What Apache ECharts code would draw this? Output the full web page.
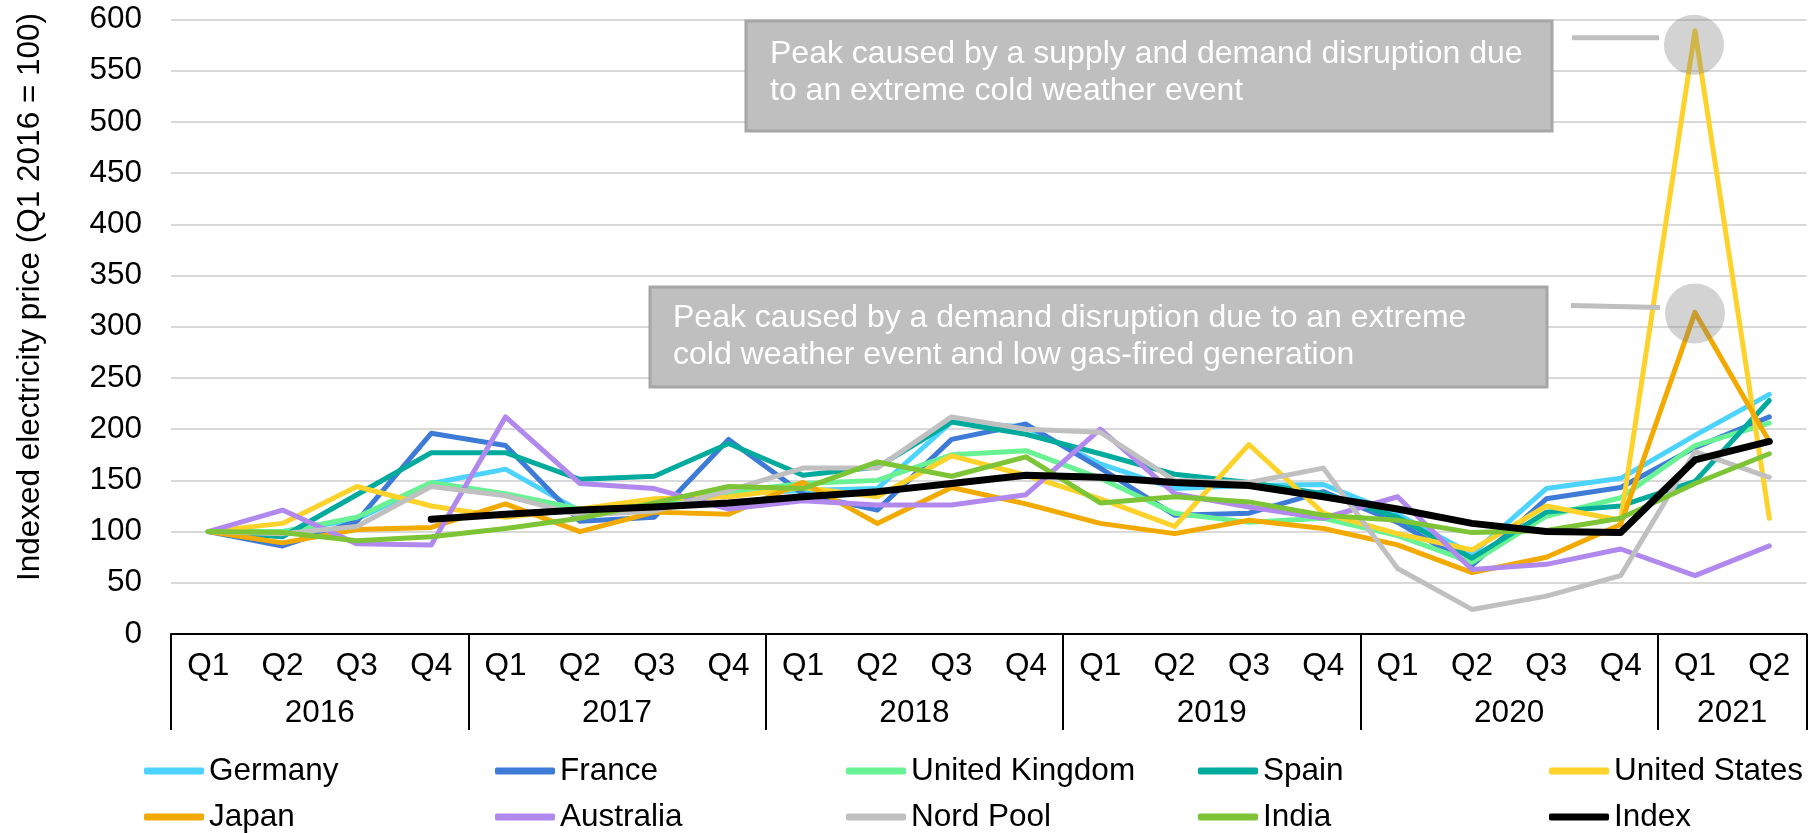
<!DOCTYPE html>
<html>
<head>
<meta charset="utf-8">
<script src="https://cdn.jsdelivr.net/npm/echarts@6/dist/echarts.min.js"></script>
<style>
  html, body { margin: 0; padding: 0; background: #ffffff; }
  #chart { width: 1809px; height: 833px; }
</style>
</head>
<body>
<div id="chart"></div>
<script>
// Quarterly periods, Q1 2016 to Q2 2021
const periods = [
  '2016 Q1', '2016 Q2', '2016 Q3', '2016 Q4',
  '2017 Q1', '2017 Q2', '2017 Q3', '2017 Q4',
  '2018 Q1', '2018 Q2', '2018 Q3', '2018 Q4',
  '2019 Q1', '2019 Q2', '2019 Q3', '2019 Q4',
  '2020 Q1', '2020 Q2', '2020 Q3', '2020 Q4',
  '2021 Q1', '2021 Q2'
];
const years = ['2016', '2017', '2018', '2019', '2020', '2021'];
const quartersPerYear = [4, 4, 4, 4, 4, 2];
const yTicks = [0, 50, 100, 150, 200, 250, 300, 350, 400, 450, 500, 550, 600];

// Indexed electricity price (Q1 2016 = 100)
const germany      = [100, 100, 112, 147, 161, 120, 125, 137, 140, 142, 207, 202, 166, 142, 145, 146, 117, 78, 142, 152, 194, 234];
const france       = [100, 86, 110, 196, 184, 110, 114, 190, 137, 121, 190, 205, 162, 116, 118, 139, 109, 67, 132, 143, 182, 212];
const unitedKingdom= [100, 100, 114, 148, 137, 122, 127, 139, 147, 150, 175, 179, 152, 118, 109, 113, 96, 70, 115, 133, 184, 206];
const spain        = [100, 95, 136, 177, 177, 151, 154, 186, 155, 163, 207, 195, 176, 156, 148, 137, 114, 74, 119, 125, 149, 228];
const unitedStates = [100, 108, 144, 125, 114, 122, 132, 134, 143, 134, 174, 155, 132, 105, 185, 118, 98, 82, 125, 111, 589, 113];
const japan        = [100, 89, 102, 104, 127, 100, 119, 117, 148, 108, 143, 127, 108, 98, 111, 103, 87, 60, 75, 107, 314, 188];
const australia    = [100, 121, 88, 87, 212, 147, 142, 122, 130, 126, 126, 136, 200, 137, 124, 113, 134, 63, 68, 83, 57, 86];
const nordPool     = [100, 98, 105, 144, 135, 116, 120, 140, 162, 162, 212, 200, 197, 150, 148, 162, 64, 24, 37, 57, 178, 153];
const india        = [100, 99, 91, 95, 103, 113, 128, 144, 142, 168, 154, 173, 128, 134, 129, 116, 111, 99, 101, 113, 147, 176];
const indexValues  = [null, null, null, 112, 117, 121, 124, 128, 134, 139, 147, 155, 153, 148, 145, 134, 122, 108, 100, 99, 170, 188];

const seriesDefs = [
  { name: 'Germany',        data: germany,       color: '#4dd3ff', width: 5 },
  { name: 'France',         data: france,        color: '#3e7bd7', width: 5 },
  { name: 'United Kingdom', data: unitedKingdom, color: '#68f294', width: 5 },
  { name: 'Spain',          data: spain,         color: '#00ab9e', width: 5 },
  { name: 'United States',  data: unitedStates,  color: '#fdd22a', width: 5 },
  { name: 'Japan',          data: japan,         color: '#f2aa00', width: 5 },
  { name: 'Australia',      data: australia,     color: '#b088ee', width: 5 },
  { name: 'Nord Pool',      data: nordPool,      color: '#c0c0c0', width: 5 },
  { name: 'India',          data: india,         color: '#7dc436', width: 5 },
  { name: 'Index',          data: indexValues,   color: '#000000', width: 7 }
];

const FONT = '"Liberation Sans", Arial, sans-serif';
const FS = 31.5;
const NOTE_FS = 32;

// year label centres in band units along the category axis
const yearCentres = [];
let acc = 0;
quartersPerYear.forEach(function (n) { yearCentres.push(acc + n / 2); acc += n; });

// legend columns (two rows)
const legendColumns = [
  ['Germany', 'Japan'],
  ['France', 'Australia'],
  ['United Kingdom', 'Nord Pool'],
  ['Spain', 'India'],
  ['United States', 'Index']
];
const legendLefts = [144, 495, 846, 1198, 1549];

const chart = echarts.init(document.getElementById('chart'), null, { renderer: 'canvas' });

const option = {
  animation: false,
  backgroundColor: '#ffffff',
  textStyle: { fontFamily: FONT },
  grid: { left: 171, right: 2.5, top: 19.5, bottom: 199, containLabel: false },
  xAxis: [
    {
      type: 'category',
      data: periods,
      boundaryGap: true,
      axisLine: { show: true, lineStyle: { color: '#000000', width: 2 } },
      axisTick: {
        show: true,
        interval: function (i) { return i % 4 === 0; },
        length: 96,
        lineStyle: { color: '#000000', width: 2 }
      },
      axisLabel: {
        interval: 0,
        margin: 16,
        fontSize: FS,
        fontFamily: FONT,
        color: '#000000',
        formatter: function (v) { return v.split(' ')[1]; }
      },
      splitLine: { show: false }
    },
    {
      type: 'value',
      position: 'bottom',
      min: 0,
      max: periods.length,
      axisLine: { show: false },
      axisTick: { show: false },
      splitLine: { show: false },
      axisLabel: {
        customValues: yearCentres,
        margin: 63,
        fontSize: FS,
        fontFamily: FONT,
        color: '#000000',
        formatter: function (v) {
          const k = yearCentres.indexOf(v);
          return k >= 0 ? years[k] : '';
        }
      }
    }
  ],
  yAxis: {
    type: 'value',
    min: yTicks[0],
    max: yTicks[yTicks.length - 1],
    interval: 50,
    axisLine: { show: false },
    axisTick: { show: false },
    axisLabel: { margin: 29, fontSize: FS, fontFamily: FONT, color: '#000000' },
    splitLine: { show: true, lineStyle: { color: '#d9d9d9', width: 2 } }
  },
  legend: legendColumns.map(function (col, k) {
    return {
      data: col,
      orient: 'vertical',
      left: legendLefts[k],
      top: 755,
      padding: 0,
      itemGap: 14,
      itemWidth: 60,
      itemHeight: 7,
      icon: 'roundRect',
      selectedMode: false,
      textStyle: { fontSize: FS, fontFamily: FONT, color: '#000000', lineHeight: 32 }
    };
  }),
  series: seriesDefs.map(function (s) {
    return {
      name: s.name,
      type: 'line',
      data: s.data,
      xAxisIndex: 0,
      yAxisIndex: 0,
      symbol: 'none',
      showSymbol: false,
      connectNulls: false,
      color: s.color,
      lineStyle: { color: s.color, width: s.width, cap: 'round', join: 'round' },
      itemStyle: { color: s.color },
      emphasis: { disabled: true },
      silent: true
    };
  })
};

chart.setOption(option);

// Callouts: highlight rings on the Q1 2021 peaks with text boxes and leader lines
const peakIdx = periods.indexOf('2021 Q1');
const usPeak = chart.convertToPixel({ xAxisIndex: 0, yAxisIndex: 0 }, [peakIdx, unitedStates[peakIdx]]);
const jpPeak = chart.convertToPixel({ xAxisIndex: 0, yAxisIndex: 0 }, [peakIdx, japan[peakIdx]]);

const ringR = 30;
const usRing = [usPeak[0] - 1, usPeak[1] + 14];
const jpRing = [jpPeak[0], jpPeak[1] + 1];

function box(x, y, w, h, tx, ty, text) {
  return [
    {
      type: 'rect', z: 100,
      shape: { x: x, y: y, width: w, height: h },
      style: { fill: '#bfbfbf', stroke: '#a6a6a6', lineWidth: 3 }
    },
    {
      type: 'text', z: 101,
      x: tx, y: ty,
      style: {
        text: text,
        fill: '#ffffff',
        font: NOTE_FS + 'px ' + FONT,
        lineHeight: 37,
        verticalAlign: 'top',
        align: 'left'
      }
    }
  ];
}

const graphics = []
  .concat(box(746, 21, 806, 110, 770, 36,
    'Peak caused by a supply and demand disruption due\nto an extreme cold weather event'))
  .concat(box(650, 287, 897, 100, 673, 300,
    'Peak caused by a demand disruption due to an extreme\ncold weather event and low gas-fired generation'))
  .concat([
    {
      type: 'line', z: 100,
      shape: { x1: 1572, y1: usRing[1] - 7, x2: usRing[0] - 35, y2: usRing[1] - 7 },
      style: { stroke: '#bfbfbf', lineWidth: 5 }
    },
    {
      type: 'line', z: 100,
      shape: { x1: 1571, y1: jpRing[1] - 8, x2: jpRing[0] - 35, y2: jpRing[1] - 6 },
      style: { stroke: '#bfbfbf', lineWidth: 5 }
    },
    {
      type: 'circle', z: 100,
      shape: { cx: usRing[0], cy: usRing[1], r: ringR },
      style: { fill: 'rgba(128,128,128,0.35)' }
    },
    {
      type: 'circle', z: 100,
      shape: { cx: jpRing[0], cy: jpRing[1], r: ringR },
      style: { fill: 'rgba(128,128,128,0.35)' }
    },
    {
      type: 'text', z: 100,
      x: 30, y: 297,
      rotation: Math.PI / 2,
      style: {
        text: 'Indexed electricity price (Q1 2016 = 100)',
        fill: '#000000',
        font: FS + 'px ' + FONT,
        align: 'center',
        verticalAlign: 'middle'
      }
    }
  ]);

chart.setOption({ graphic: graphics });
</script>
</body>
</html>
